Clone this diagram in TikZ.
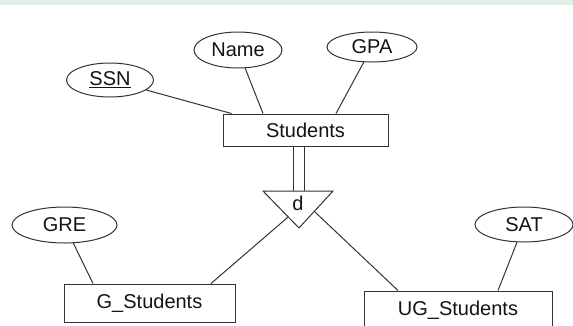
\documentclass[tikz,border=0pt]{standalone}
\usepackage{fontspec}
\setmainfont{Liberation Sans}
\usetikzlibrary{shapes.geometric,calc}
\definecolor{ink}{HTML}{333333}
\definecolor{band}{HTML}{E3EDE3}
\tikzset{
  every node/.style={font=\fontsize{20}{22}\selectfont, text=black!92},
  entity/.style={draw=ink, line width=1pt, rectangle, inner sep=0pt},
  attr/.style={draw=ink, line width=1pt, ellipse, inner sep=0pt},
  link/.style={draw=ink, line width=1pt},
}
\begin{document}
\begin{tikzpicture}[x=1pt,y=-1pt]
  \useasboundingbox (0,0) rectangle (573,325);
  \clip (0,0) rectangle (573,325);
  % header strip
  \fill[band] (0,0) rectangle (573,5);

  % entities
  \node[entity, minimum width=165pt, minimum height=32pt] (Students) at (305.5,130) {Students};
  \node[entity, minimum width=171pt, minimum height=38pt] (G) at (149.5,303) {G\_Students};
  \node[entity, minimum width=188pt, minimum height=38pt] (UG) at (458,310) {UG\_Students};

  % attributes
  \node[attr, minimum width=87pt, minimum height=34pt] (SSN) at (110,80) {\underline{SSN}};
  \node[attr, minimum width=88pt, minimum height=36pt] (Name) at (238,50) {Name};
  \node[attr, minimum width=90pt, minimum height=30pt] (GPA) at (372,47) {GPA};
  \node[attr, minimum width=105pt, minimum height=36pt] (GRE) at (64.5,225) {GRE};
  \node[attr, minimum width=98pt, minimum height=35pt] (SAT) at (524,224.5) {SAT};

  % disjoint specialization triangle
  \coordinate (tl) at (263,191);
  \coordinate (tr) at (333,191);
  \coordinate (tb) at (299,228);
  \coordinate (ttop) at (298.5,191);
  \draw[link] (tl) -- (tr) -- (tb) -- cycle;
  \node (d) at (298,203) {d};

  % attribute links
  \draw[link] (SSN) -- ([xshift=9pt]Students.north west);
  \draw[link] (Name) -- ([xshift=-42.5pt]Students.north);
  \draw[link] (GPA) -- ([xshift=30.5pt]Students.north);
  \draw[link] (GRE) -- ([xshift=-56.5pt]G.north);
  \draw[link] (SAT) -- ([xshift=40pt]UG.north);

  % total participation (double line) from superclass to triangle
  \draw[link] ([xshift=-5.5pt]ttop) -- ([xshift=-5.5pt]ttop |- Students.south);
  \draw[link] ([xshift=5.5pt]ttop) -- ([xshift=5.5pt]ttop |- Students.south);

  % subclass links
  \draw[link] ($(tl)!0.7!(tb)$) -- ([xshift=61.5pt]G.north);
  \draw[link] ($(tr)!0.55!(tb)$) -- ([xshift=-60pt]UG.north);
\end{tikzpicture}
\end{document}
